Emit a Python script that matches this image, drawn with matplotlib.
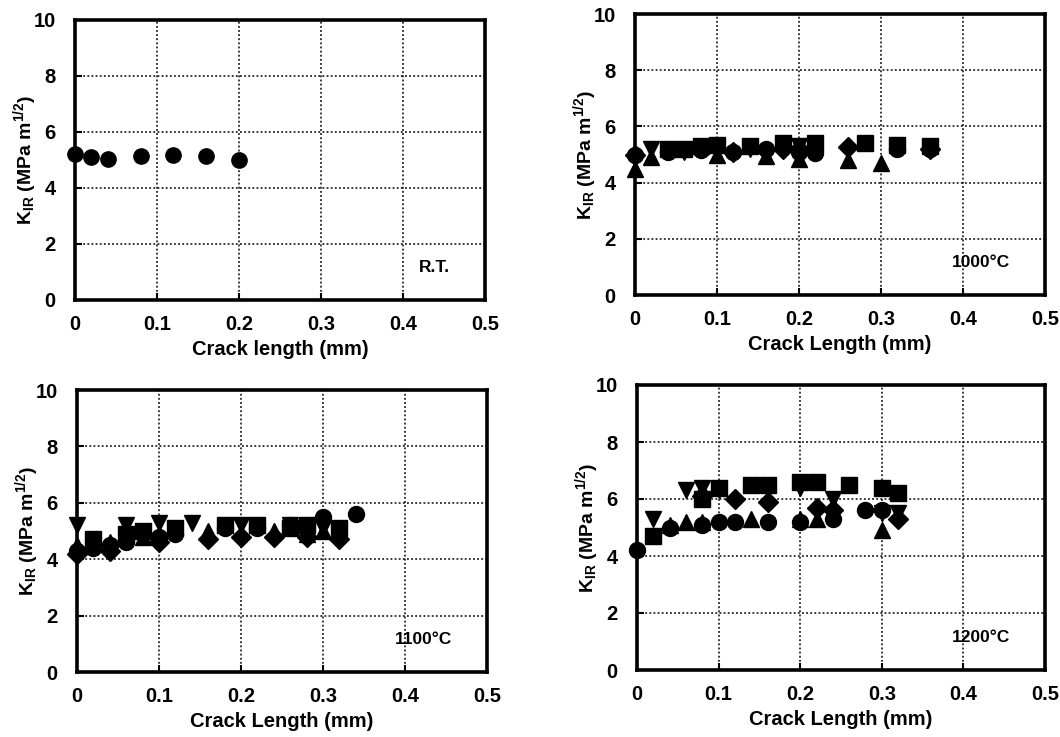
import matplotlib.pyplot as plt

plt.rcParams['font.family'] = ['Liberation Sans', 'DejaVu Sans']
plt.rcParams['font.weight'] = 'bold'
plt.rcParams['mathtext.fontset'] = 'custom'
plt.rcParams['mathtext.rm'] = 'Liberation Sans:bold'
plt.rcParams['mathtext.it'] = 'Liberation Sans:bold'
plt.rcParams['mathtext.bf'] = 'Liberation Sans:bold'

# room temperature
rt_x = [0, 0.02, 0.04, 0.08, 0.12, 0.16, 0.2]
rt_y = [5.22, 5.12, 5.03, 5.15, 5.17, 5.13, 5.0]

# 1000 C
t1000 = {
    'o': ([0, 0.04, 0.08, 0.12, 0.16, 0.2, 0.22, 0.32, 0.36],
          [5.0, 5.1, 5.15, 5.1, 5.2, 5.1, 5.05, 5.2, 5.2]),
    's': ([0.04, 0.06, 0.08, 0.1, 0.14, 0.18, 0.22, 0.28, 0.32, 0.36],
          [5.2, 5.2, 5.3, 5.35, 5.3, 5.4, 5.4, 5.4, 5.35, 5.3]),
    '^': ([0, 0.02, 0.1, 0.16, 0.2, 0.26, 0.3],
          [4.5, 4.9, 5.0, 4.95, 4.85, 4.8, 4.7]),
    'v': ([0.02, 0.06, 0.1, 0.14, 0.2, 0.22],
          [5.2, 5.1, 5.2, 5.2, 5.3, 5.2]),
    'D': ([0, 0.12, 0.18, 0.2, 0.26, 0.36],
          [5.0, 5.1, 5.2, 5.2, 5.25, 5.2]),
}

# 1100 C
t1100 = {
    'o': ([0, 0.02, 0.04, 0.06, 0.1, 0.12, 0.18, 0.22, 0.26, 0.3, 0.34],
          [4.3, 4.4, 4.5, 4.6, 4.8, 4.9, 5.1, 5.1, 5.2, 5.5, 5.6]),
    's': ([0.02, 0.06, 0.08, 0.12, 0.18, 0.22, 0.26, 0.28, 0.32],
          [4.7, 4.9, 5.0, 5.1, 5.2, 5.2, 5.1, 5.2, 5.1]),
    '^': ([0, 0.04, 0.08, 0.16, 0.24, 0.28, 0.3],
          [4.5, 4.6, 4.8, 5.0, 5.0, 4.9, 5.0]),
    'v': ([0, 0.06, 0.1, 0.14, 0.2, 0.26, 0.3],
          [5.2, 5.2, 5.3, 5.3, 5.2, 5.2, 5.1]),
    'D': ([0, 0.04, 0.1, 0.16, 0.2, 0.24, 0.28, 0.32],
          [4.2, 4.3, 4.6, 4.7, 4.8, 4.8, 4.8, 4.7]),
}

# 1200 C
t1200 = {
    'o': ([0, 0.04, 0.08, 0.1, 0.12, 0.16, 0.2, 0.24, 0.28, 0.3],
          [4.2, 5.0, 5.1, 5.2, 5.2, 5.2, 5.2, 5.3, 5.6, 5.6]),
    's': ([0.02, 0.08, 0.1, 0.14, 0.16, 0.2, 0.22, 0.26, 0.3, 0.32],
          [4.7, 6.0, 6.4, 6.5, 6.5, 6.6, 6.6, 6.5, 6.4, 6.2]),
    '^': ([0.04, 0.06, 0.08, 0.14, 0.2, 0.22, 0.3],
          [5.1, 5.2, 5.2, 5.3, 5.3, 5.3, 4.9]),
    'v': ([0.02, 0.06, 0.08, 0.1, 0.2, 0.24, 0.3, 0.32],
          [5.3, 6.3, 6.4, 6.3, 6.4, 6.0, 5.5, 5.5]),
    'D': ([0.08, 0.12, 0.16, 0.22, 0.24, 0.32],
          [6.1, 6.0, 5.9, 5.7, 5.6, 5.3]),
}

xticks = [0, 0.1, 0.2, 0.3, 0.4, 0.5]
xtick_labels = ['0', '0.1', '0.2', '0.3', '0.4', '0.5']
yticks = [0, 2, 4, 6, 8, 10]

fig = plt.figure(figsize=(10.6, 7.37), dpi=100)
W, H = 1060, 737


def make_ax(left, top, right, bottom):
    return fig.add_axes([left / W, 1 - bottom / H, (right - left) / W, (bottom - top) / H])


axes = [
    make_ax(75, 20, 485, 300),
    make_ax(635, 14, 1045, 295),
    make_ax(77, 390, 487, 672),
    make_ax(637, 385, 1045, 670),
]
xlabels = ['Crack length (mm)', 'Crack Length (mm)', 'Crack Length (mm)', 'Crack Length (mm)']
tags = ['R.T.', '1000°C', '1100°C', '1200°C']
ylab = r'K$_{\mathrm{IR}}$ (MPa m$^{\mathrm{1/2}}$)'

for ax, xl, tag in zip(axes, xlabels, tags):
    ax.set_xlim(0, 0.5)
    ax.set_ylim(0, 10)
    ax.set_xticks(xticks)
    ax.set_xticklabels(xtick_labels)
    ax.set_yticks(yticks)
    ax.grid(True, color='black', linestyle=(0, (1.2, 1.5)), linewidth=1.1)
    ax.set_axisbelow(True)
    for s in ax.spines.values():
        s.set_linewidth(2.6)
    ax.tick_params(direction='in', length=5, width=1.5, labelsize=14.5)
    ax.tick_params(axis='x', pad=11)
    ax.tick_params(axis='y', pad=14)
    for lab in ax.get_xticklabels() + ax.get_yticklabels():
        lab.set_fontweight('bold')
    ax.set_xlabel(xl, fontsize=14.5, fontweight='bold', labelpad=4)
    ax.set_ylabel(ylab, fontsize=14, fontweight='bold', labelpad=-4)
    ax.text(0.915, 0.115, tag, transform=ax.transAxes, ha='right', va='center',
            fontsize=12.5, fontweight='bold')

axes[0].plot(rt_x, rt_y, 'o', color='black', ms=11, clip_on=False, zorder=5)

for ax, data in zip(axes[1:], [t1000, t1100, t1200]):
    for m, (xs, ys) in data.items():
        size = 10 if m == 'D' else 11.5
        ax.plot(xs, ys, m, color='black', ms=size, clip_on=False, zorder=5)

fig.savefig('out.png', dpi=100)
